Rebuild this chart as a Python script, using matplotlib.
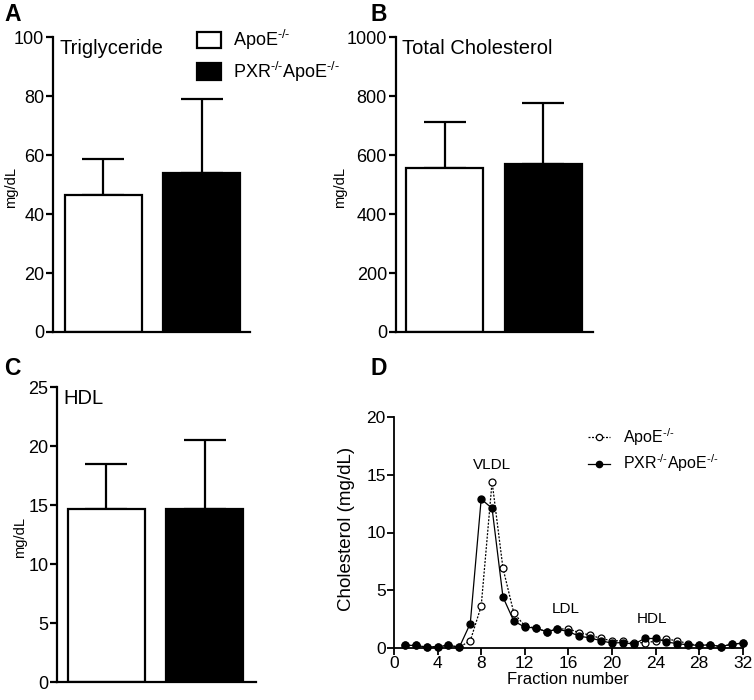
import matplotlib
matplotlib.use("Agg")
import matplotlib.pyplot as plt
from matplotlib.patches import Patch
import numpy as np

plt.rcParams['font.family'] = ['Liberation Sans', 'DejaVu Sans']
plt.rcParams['mathtext.fontset'] = 'custom'
plt.rcParams['mathtext.rm'] = 'Liberation Sans'
plt.rcParams['mathtext.it'] = 'Liberation Sans:italic'
plt.rcParams['mathtext.bf'] = 'Liberation Sans:bold'

# ---- data ----
groups = [r'ApoE$^{\text{-/-}}$', r'PXR$^{\text{-/-}}$ApoE$^{\text{-/-}}$']
tg_mean = [46.5, 54.0]
tg_err = [12.3, 25.0]
tc_mean = [557, 571]
tc_err = [154, 205]
hdl_mean = [14.7, 14.7]
hdl_err = [3.8, 5.8]

fractions = list(range(1, 33))
apoe_frac = [0.2, 0.2, 0.05, 0.1, 0.2, 0.05, 0.6, 3.6, 14.4, 6.9, 3.0, 1.9,
             1.7, 1.4, 1.6, 1.65, 1.3, 1.1, 0.8, 0.6, 0.6, 0.4, 0.45, 0.55,
             0.75, 0.6, 0.35, 0.2, 0.25, 0.1, 0.3, 0.4]
pxr_frac = [0.2, 0.2, 0.05, 0.1, 0.2, 0.05, 2.1, 12.9, 12.1, 4.4, 2.3, 1.8,
            1.7, 1.4, 1.6, 1.4, 1.0, 0.85, 0.6, 0.4, 0.45, 0.3, 0.8, 0.8,
            0.5, 0.35, 0.25, 0.2, 0.25, 0.1, 0.3, 0.4]

W, H = 754, 700
fig = plt.figure(figsize=(W / 100, H / 100), dpi=100)


def axes_px(left, right, top, bottom):
    return fig.add_axes([left / W, 1 - bottom / H, (right - left) / W, (bottom - top) / H])


SPINE_LW = 1.6
FILLS = ['white', 'black']


def bar_panel(ax, means, errs, ymax, step, title, xlim, ylab_x):
    x = np.arange(len(means))
    ax.bar(x, means, width=0.78, color=FILLS, edgecolor='black', linewidth=1.6, zorder=2)
    ax.errorbar(x, means, yerr=[np.zeros(len(errs)), errs], fmt='none', ecolor='black',
                elinewidth=1.6, capsize=15, capthick=1.6, zorder=1)
    ax.set_xlim(*xlim)
    ax.set_ylim(0, ymax)
    ax.set_yticks(np.arange(0, ymax + step / 2, step))
    ax.set_xticks([])
    for s in ['top', 'right']:
        ax.spines[s].set_visible(False)
    for s in ['left', 'bottom']:
        ax.spines[s].set_linewidth(SPINE_LW)
    ax.tick_params(axis='y', direction='out', length=5, width=SPINE_LW, labelsize=13, pad=1.5)
    ax.set_ylabel('mg/dL', fontsize=10.5)
    ax.yaxis.set_label_coords(ylab_x, 0.49)
    ax.text(0.03, 0.945, title, transform=ax.transAxes, ha='left', va='baseline', fontsize=14.5)


axA = axes_px(53.3, 250, 37.3, 332)
bar_panel(axA, tg_mean, tg_err, 100, 20, 'Triglyceride', (-0.51, 1.49), -0.18)

axB = axes_px(396, 592.7, 37.3, 332)
bar_panel(axB, tc_mean, tc_err, 1000, 200, 'Total Cholesterol', (-0.494, 1.50), -0.25)

axC = axes_px(57.3, 256, 387.3, 682.3)
bar_panel(axC, hdl_mean, hdl_err, 25, 5, 'HDL', (-0.50, 1.52), -0.152)

# legend for bar panels
handles = [Patch(facecolor=c, edgecolor='black', linewidth=1.6) for c in FILLS]
fig.legend(handles, groups, loc='upper left', bbox_to_anchor=(197 / W, 1 - 28 / H),
           frameon=False, fontsize=13, handlelength=1.35, handleheight=1.05,
           handletextpad=0.65, labelspacing=0.42, borderpad=0, borderaxespad=0)

# ---- panel D ----
axD = axes_px(394, 742.7, 417.3, 647.7)
axD.plot(fractions, apoe_frac, linestyle=(0, (1.6, 1.2)), color='black', linewidth=0.9,
         marker='o', markersize=5, markerfacecolor='white', markeredgecolor='black',
         markeredgewidth=0.9, clip_on=False, zorder=3, label=groups[0])
axD.plot(fractions, pxr_frac, linestyle='-', color='black', linewidth=0.9,
         marker='o', markersize=5, markerfacecolor='black', markeredgecolor='black',
         clip_on=False, zorder=4, label=groups[1])
axD.set_xlim(0, 32)
axD.set_ylim(0, 20)
axD.set_xticks(np.arange(0, 33, 4))
axD.set_yticks(np.arange(0, 21, 5))
for s in ['top', 'right']:
    axD.spines[s].set_visible(False)
for s in ['left', 'bottom']:
    axD.spines[s].set_linewidth(1.3)
axD.tick_params(direction='out', length=5, width=1.3, labelsize=12.5, pad=1)
axD.set_xlabel('Fraction number', fontsize=12, labelpad=1)
axD.set_ylabel('Cholesterol (mg/dL)', fontsize=13.5)
axD.yaxis.set_label_coords(-0.112, 0.515)
axD.text(9.0, 15.9, 'VLDL', ha='center', va='center', fontsize=11)
axD.text(15.75, 3.4, 'LDL', ha='center', va='center', fontsize=11)
axD.text(23.7, 2.45, 'HDL', ha='center', va='center', fontsize=11)
axD.legend(loc='upper left', bbox_to_anchor=((588 - 394) / 348.7, (647.7 - 426) / 230.4),
           frameon=False, fontsize=11.5, handlelength=1.4, handletextpad=0.8,
           labelspacing=0.3, borderpad=0, borderaxespad=0, markerscale=0.9)

# panel letters
for lab, xp, yp in [('A', 4, 3), ('B', 371, 3), ('C', 4, 357), ('D', 371, 357)]:
    fig.text(xp / W, 1 - yp / H, lab, ha='left', va='top', fontsize=16.5, fontweight='bold')

fig.savefig('out.png', dpi=100)
